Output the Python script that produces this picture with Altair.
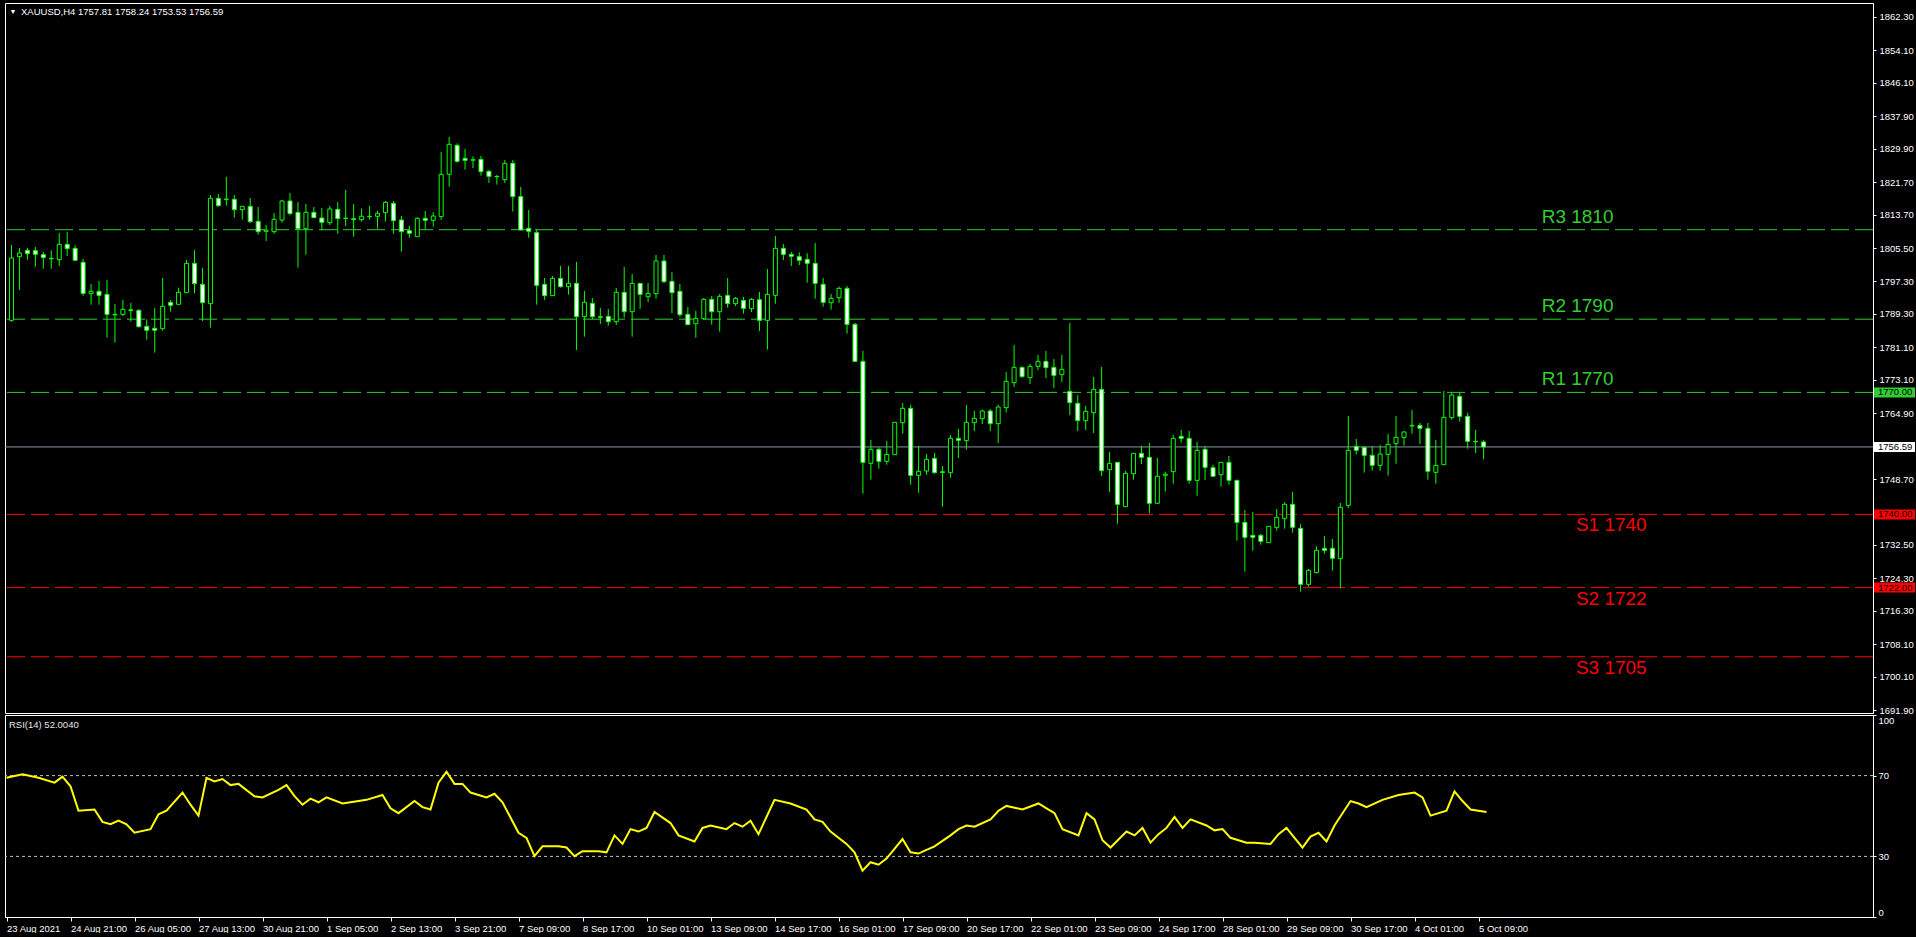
import altair as alt
import pandas as pd

# ---------------- data ----------------
symbol = "XAUUSD,H4"

opens = [1787.72, 1803.37, 1804.93, 1804.85, 1803.87, 1802.95, 1802.63, 1806.40, 1805.42, 1801.98,
         1794.28, 1794.85, 1794.11, 1789.19, 1789.19, 1790.30, 1790.18, 1786.24, 1785.75, 1785.67,
         1792.14, 1791.65, 1794.52, 1801.73, 1796.57, 1791.82, 1817.72, 1817.40, 1817.47, 1814.93,
         1815.75, 1812.06, 1809.60, 1809.52, 1812.39, 1817.06, 1814.27, 1810.26, 1814.27, 1812.88,
         1811.73, 1815.01, 1812.85, 1812.70, 1812.47, 1813.29, 1813.29, 1814.19, 1816.49, 1812.39,
         1809.76, 1808.29, 1812.80, 1812.31, 1813.21, 1823.62, 1830.75, 1827.55, 1827.10, 1827.30,
         1824.35, 1823.10, 1822.31, 1826.32, 1818.13, 1810.34, 1809.27, 1796.57, 1793.78, 1798.04,
         1795.99, 1796.81, 1788.61, 1791.89, 1788.60, 1788.70, 1787.38, 1794.60, 1789.84, 1796.81,
         1793.53, 1794.27, 1802.30, 1797.30, 1794.84, 1789.19, 1786.89, 1788.12, 1792.88, 1789.84,
         1793.86, 1791.81, 1792.63, 1790.58, 1792.79, 1787.71, 1793.86, 1805.42, 1803.94, 1803.37,
         1802.71, 1801.73, 1796.57, 1792.06, 1793.29, 1795.58, 1786.73, 1777.63, 1752.55, 1756.00,
         1753.05, 1754.69, 1762.55, 1766.08, 1749.60, 1750.67, 1753.78, 1750.30, 1750.26, 1758.70,
         1758.13, 1762.55, 1763.54, 1765.42, 1762.31, 1766.24, 1772.39, 1776.16, 1773.62, 1776.40,
         1777.63, 1776.16, 1774.36, 1770.26, 1767.31, 1763.05, 1765.01, 1770.75, 1751.00, 1752.80,
         1741.90, 1750.01, 1755.01, 1754.03, 1742.72, 1749.60, 1750.51, 1759.19, 1758.70, 1748.37,
         1756.00, 1751.49, 1749.77, 1752.80, 1748.38, 1738.05, 1734.85, 1734.85, 1733.05, 1736.82,
         1738.95, 1742.48, 1736.58, 1722.81, 1725.68, 1731.66, 1731.66, 1729.12, 1742.23, 1756.74,
         1756.49, 1754.52, 1752.06, 1754.77, 1757.39, 1758.95, 1761.75, 1761.90, 1761.16, 1750.34,
         1752.23, 1763.79, 1769.03, 1764.11, 1757.95, 1757.81]
highs = [1806.24, 1805.50, 1805.50, 1805.75, 1804.52, 1804.93, 1809.19, 1809.44, 1806.16, 1802.80,
         1796.65, 1797.39, 1797.63, 1791.73, 1792.72, 1791.98, 1790.42, 1787.96, 1790.75, 1798.13,
         1792.72, 1795.75, 1802.55, 1805.01, 1800.59, 1818.54, 1818.78, 1822.96, 1818.54, 1815.75,
         1817.80, 1815.58, 1811.16, 1814.11, 1817.31, 1819.03, 1816.81, 1816.32, 1815.58, 1815.34,
         1815.83, 1816.81, 1819.76, 1816.32, 1815.17, 1815.83, 1814.60, 1817.06, 1817.06, 1813.37,
         1810.91, 1813.04, 1814.60, 1814.35, 1829.11, 1832.80, 1831.24, 1829.85, 1828.04, 1828.12,
         1824.68, 1823.45, 1827.14, 1827.14, 1820.50, 1814.85, 1809.93, 1798.13, 1798.62, 1801.08,
         1801.07, 1802.05, 1794.92, 1793.20, 1790.74, 1790.50, 1795.66, 1800.83, 1799.10, 1796.89,
         1796.89, 1803.78, 1803.78, 1799.60, 1796.65, 1790.99, 1790.01, 1793.20, 1793.69, 1794.19,
         1798.12, 1793.45, 1793.45, 1793.20, 1794.68, 1800.33, 1808.45, 1806.48, 1804.51, 1804.44,
         1804.19, 1806.73, 1798.12, 1794.19, 1795.99, 1796.16, 1787.06, 1780.17, 1758.29, 1756.49,
         1758.05, 1762.64, 1767.39, 1766.90, 1756.82, 1754.85, 1755.10, 1751.90, 1759.52, 1761.00,
         1766.90, 1765.42, 1765.75, 1765.91, 1766.98, 1775.01, 1781.65, 1776.32, 1776.98, 1779.19,
         1780.17, 1778.21, 1779.19, 1787.06, 1769.36, 1766.65, 1773.78, 1776.24, 1755.34, 1752.80,
         1750.67, 1755.01, 1756.82, 1757.55, 1753.87, 1750.51, 1759.52, 1760.75, 1760.50, 1757.80,
         1756.82, 1752.15, 1752.80, 1754.36, 1748.38, 1741.08, 1740.59, 1735.18, 1737.07, 1741.33,
         1742.97, 1745.51, 1737.64, 1726.58, 1732.15, 1734.69, 1733.95, 1742.81, 1764.20, 1758.54,
         1756.74, 1756.82, 1757.06, 1759.77, 1764.20, 1760.51, 1765.67, 1762.47, 1762.47, 1758.29,
         1770.34, 1769.93, 1770.02, 1764.93, 1760.75, 1758.24]
lows = [1787.39, 1795.18, 1802.63, 1800.91, 1800.42, 1800.42, 1801.08, 1803.54, 1802.47, 1793.78,
        1791.57, 1791.57, 1783.46, 1782.23, 1788.78, 1787.39, 1785.91, 1782.96, 1779.77, 1785.18,
        1789.85, 1791.65, 1794.52, 1794.44, 1787.55, 1785.91, 1815.67, 1815.91, 1812.96, 1812.47,
        1811.65, 1808.78, 1807.22, 1809.03, 1811.73, 1813.54, 1800.67, 1803.86, 1812.96, 1809.85,
        1811.16, 1809.03, 1810.91, 1808.29, 1811.98, 1812.47, 1810.26, 1811.98, 1809.03, 1804.60,
        1808.04, 1808.29, 1810.09, 1810.75, 1812.39, 1820.58, 1826.48, 1824.76, 1825.17, 1823.29,
        1821.49, 1821.08, 1821.49, 1814.44, 1809.93, 1808.04, 1791.57, 1792.72, 1793.78, 1795.75,
        1794.02, 1780.42, 1783.70, 1787.96, 1786.81, 1786.40, 1786.56, 1788.37, 1783.70, 1790.58,
        1792.22, 1793.04, 1796.89, 1789.51, 1788.61, 1786.65, 1783.45, 1787.88, 1786.65, 1784.93,
        1790.83, 1791.24, 1789.35, 1789.76, 1785.09, 1780.50, 1791.81, 1802.55, 1801.07, 1801.32,
        1796.98, 1793.04, 1791.08, 1790.34, 1791.98, 1784.44, 1777.63, 1745.10, 1748.54, 1751.24,
        1752.23, 1754.69, 1759.85, 1747.31, 1745.34, 1749.77, 1750.01, 1741.90, 1749.03, 1753.87,
        1755.91, 1760.50, 1762.23, 1760.50, 1757.55, 1765.01, 1771.32, 1773.62, 1772.06, 1775.50,
        1773.54, 1771.08, 1772.55, 1764.44, 1760.50, 1760.75, 1760.01, 1749.44, 1745.51, 1737.72,
        1741.90, 1748.54, 1752.39, 1740.26, 1742.72, 1745.59, 1747.55, 1757.64, 1747.55, 1744.60,
        1748.46, 1749.28, 1746.82, 1747.31, 1733.54, 1725.92, 1731.08, 1732.56, 1733.05, 1736.00,
        1736.49, 1735.51, 1721.00, 1722.23, 1725.51, 1730.35, 1726.17, 1721.82, 1741.57, 1754.77,
        1750.26, 1750.75, 1750.75, 1749.52, 1752.47, 1756.90, 1759.85, 1757.31, 1748.54, 1747.56,
        1752.23, 1763.29, 1762.80, 1756.16, 1755.10, 1753.53]
closes = [1803.04, 1804.27, 1804.11, 1803.95, 1803.13, 1802.85, 1806.40, 1805.34, 1802.47, 1794.36,
          1794.85, 1793.86, 1789.19, 1789.05, 1790.42, 1790.10, 1786.16, 1785.26, 1785.26, 1791.16,
          1791.41, 1794.60, 1801.73, 1796.73, 1792.06, 1817.72, 1815.91, 1817.55, 1814.93, 1815.75,
          1811.98, 1809.52, 1809.90, 1812.55, 1817.06, 1813.95, 1810.26, 1814.27, 1812.96, 1811.81,
          1815.09, 1812.72, 1812.75, 1812.47, 1813.29, 1813.20, 1814.03, 1816.73, 1812.22, 1809.52,
          1809.11, 1812.80, 1812.31, 1813.37, 1823.62, 1830.99, 1826.81, 1827.06, 1827.20, 1824.27,
          1823.12, 1823.00, 1826.32, 1818.13, 1809.93, 1809.60, 1796.32, 1793.78, 1798.04, 1796.00,
          1796.81, 1788.61, 1792.14, 1788.61, 1788.45, 1787.38, 1794.60, 1789.84, 1796.81, 1794.10,
          1794.35, 1802.30, 1797.22, 1794.51, 1789.10, 1786.65, 1788.20, 1792.88, 1789.84, 1793.61,
          1791.81, 1793.12, 1790.66, 1792.88, 1787.71, 1794.10, 1805.42, 1803.94, 1803.45, 1802.47,
          1801.73, 1796.81, 1792.14, 1793.12, 1795.58, 1786.73, 1777.63, 1752.80, 1756.00, 1753.05,
          1754.77, 1762.64, 1766.08, 1749.60, 1750.59, 1753.54, 1750.26, 1750.50, 1758.70, 1758.21,
          1762.64, 1763.62, 1765.42, 1762.31, 1766.41, 1772.72, 1776.16, 1773.86, 1776.40, 1777.63,
          1776.08, 1774.19, 1775.67, 1767.47, 1763.05, 1765.34, 1770.75, 1750.75, 1752.55, 1742.47,
          1750.10, 1755.01, 1754.03, 1742.72, 1749.36, 1749.90, 1758.70, 1758.70, 1748.37, 1755.75,
          1751.57, 1749.36, 1752.80, 1748.38, 1738.05, 1734.36, 1734.36, 1733.38, 1737.07, 1739.28,
          1742.48, 1736.82, 1722.81, 1726.25, 1731.17, 1731.17, 1729.20, 1741.74, 1755.75, 1755.75,
          1754.52, 1752.06, 1754.85, 1757.23, 1758.95, 1760.26, 1761.90, 1761.16, 1750.59, 1752.06,
          1763.87, 1769.36, 1764.11, 1757.97, 1757.85, 1756.59]

time_labels = ["23 Aug 2021", "24 Aug 21:00", "26 Aug 05:00", "27 Aug 13:00", "30 Aug 21:00",
               "1 Sep 05:00", "2 Sep 13:00", "3 Sep 21:00", "7 Sep 09:00", "8 Sep 17:00",
               "10 Sep 01:00", "13 Sep 09:00", "14 Sep 17:00", "16 Sep 01:00", "17 Sep 09:00",
               "20 Sep 17:00", "22 Sep 01:00", "23 Sep 09:00", "24 Sep 17:00", "28 Sep 01:00",
               "29 Sep 09:00", "30 Sep 17:00", "4 Oct 01:00", "5 Oct 09:00"]
bars_per_label = 8

price_ticks = [1862.3, 1854.1, 1846.1, 1837.9, 1829.9, 1821.7, 1813.7, 1805.5, 1797.3, 1789.3,
               1781.1, 1773.1, 1764.9, 1748.7, 1732.5, 1724.3, 1716.3, 1708.1, 1700.1, 1691.9]

level_names = ["R3 1810", "R2 1790", "R1 1770", "S1 1740", "S2 1722", "S3 1705"]
level_values = [1810.0, 1788.0, 1770.0, 1740.0, 1722.0, 1705.0]
level_colors = ["#32cd32", "#32cd32", "#32cd32", "#ff0000", "#ff0000", "#ff0000"]
level_side = ["R", "R", "R", "S", "S", "S"]
level_text_bar = [192.3, 192.3, 192.3, 196.6, 196.6, 196.6]

badge_values = [1770.0, 1756.59, 1740.0, 1722.0]
badge_colors = ["#32cd32", "#ffffff", "#ff0000", "#ff0000"]

rsi_bar = [0, 2, 4, 6, 7, 8, 9, 11, 12, 13, 14, 15, 16, 18, 19, 20, 22, 23, 24, 25, 26, 27, 28, 29,
           31, 32, 34, 35, 36, 37, 38, 39, 40, 42, 43, 45, 47, 48, 49, 51, 52, 53, 54, 55, 56, 57,
           58, 60, 61, 62, 64, 65, 66, 67, 69, 70, 71, 72, 74, 75, 76, 77, 78, 79, 80, 81, 83, 84,
           86, 87, 88, 90, 91, 92, 93, 94, 96, 98, 100, 101, 102, 103, 105, 106, 107, 108, 109,
           110, 112, 113, 114, 115, 116, 118, 119, 120, 121, 123, 124, 125, 127, 129, 130, 131,
           132, 134, 135, 136, 137, 138, 140, 141, 142, 143, 144, 145, 146, 147, 148, 150, 151,
           152, 153, 155, 156, 158, 159, 160, 161, 162, 163, 164, 165, 166, 168, 169, 170, 172,
           174, 176, 177, 178, 180, 181, 182, 183, 185]
rsi_val = [68.9, 70.7, 68.9, 66.5, 69.5, 64.7, 52.6, 53.2, 47.1, 45.9, 47.7, 45.9, 41.7, 43.5, 50.8,
           52.6, 61.6, 55.6, 50.2, 68.9, 67.1, 68.3, 65.3, 65.9, 59.8, 59.2, 62.9, 65.3, 59.8, 55.6,
           58.6, 56.8, 59.2, 56.2, 56.8, 58.0, 60.4, 53.8, 51.4, 57.4, 54.4, 53.2, 66.5, 71.9, 65.9,
           65.9, 61.6, 59.2, 61.0, 56.8, 41.7, 39.2, 30.1, 35.0, 35.0, 34.4, 30.1, 32.6, 32.6, 32.0,
           40.4, 36.2, 43.5, 42.3, 44.1, 52.0, 46.5, 40.4, 37.4, 44.1, 45.3, 43.5, 46.5, 44.7, 47.7,
           41.0, 58.0, 56.2, 53.2, 48.3, 47.1, 42.3, 36.2, 32.0, 22.9, 27.1, 25.9, 28.9, 38.6, 32.0,
           31.4, 33.2, 35.0, 40.4, 43.5, 45.3, 44.7, 48.3, 52.6, 55.0, 53.2, 56.2, 53.8, 51.4, 43.5,
           40.4, 51.4, 48.3, 38.0, 34.4, 42.3, 40.4, 44.1, 36.8, 41.0, 44.1, 49.5, 44.1, 48.3, 45.3,
           42.9, 43.5, 39.2, 36.8, 36.8, 36.2, 41.0, 44.1, 39.2, 34.4, 39.8, 41.7, 37.4, 45.3, 57.4,
           56.2, 54.4, 58.0, 60.4, 61.6, 59.2, 50.2, 52.6, 62.2, 57.4, 53.2, 52.0]
rsi_levels = [70, 30]
rsi_ticks = [0, 30, 70, 100]
rsi_title = "RSI(14) 52.0040"

# ---------------- layout / style ----------------
W, H_MAIN, H_RSI = 1868, 710, 202
GREEN = "#00ff00"
FONT = "Liberation Sans"
FS = 9.5
x_scale = alt.Scale(domain=[-0.1875, 233.31], nice=False, zero=False)
y_scale = alt.Scale(domain=[1691.17, 1865.74], nice=False, zero=False)
rsi_scale = alt.Scale(domain=[0, 100], nice=False, zero=False)

n = len(opens)
candles = pd.DataFrame({"i": list(range(n)), "open": opens, "high": highs,
                        "low": lows, "close": closes})
candles["dir"] = ["up" if c >= o else "down" for o, c in zip(opens, closes)]

y_axis = alt.Axis(orient="right", values=price_ticks, format=".2f", title=None, grid=False,
                  tickSize=3, labelPadding=3, labelColor="#ffffff", tickColor="#ffffff",
                  domainColor="#ffffff", labelFont=FONT, labelFontSize=FS,
                  labelOverlap=False, labelFlush=False)
X0 = alt.X("i:Q", scale=x_scale, axis=None)

wicks = alt.Chart(candles).mark_rule(color=GREEN, strokeWidth=1, clip=True).encode(
    x=X0, y=alt.Y("low:Q", scale=y_scale, axis=y_axis), y2="high:Q")

bodies = alt.Chart(candles).mark_bar(size=4, stroke=GREEN, strokeWidth=1,
                                     orient="vertical", clip=True).encode(
    x=X0,
    y=alt.Y("open:Q", scale=y_scale, axis=y_axis),
    y2="close:Q",
    fill=alt.Fill("dir:N", scale=alt.Scale(domain=["up", "down"],
                                           range=["#000000", "#ffffff"]), legend=None))

levels = pd.DataFrame({"name": level_names, "value": level_values, "color": level_colors,
                       "side": level_side, "tx": level_text_bar})
level_rules = alt.Chart(levels).mark_rule(strokeDash=[18, 6], strokeWidth=1).encode(
    y=alt.Y("value:Q", scale=y_scale, axis=y_axis),
    color=alt.Color("color:N", scale=None))

level_text_r = alt.Chart(levels).transform_filter(alt.datum.side == "R").mark_text(
    align="left", baseline="middle", font=FONT, fontSize=19, dy=-13).encode(
    x=alt.X("tx:Q", scale=x_scale, axis=None),
    y=alt.Y("value:Q", scale=y_scale, axis=y_axis),
    text="name:N", color=alt.Color("color:N", scale=None))
level_text_s = alt.Chart(levels).transform_filter(alt.datum.side == "S").mark_text(
    align="left", baseline="middle", font=FONT, fontSize=19, dy=11).encode(
    x=alt.X("tx:Q", scale=x_scale, axis=None),
    y=alt.Y("value:Q", scale=y_scale, axis=y_axis),
    text="name:N", color=alt.Color("color:N", scale=None))

price_line = alt.Chart(pd.DataFrame({"p": [closes[-1]]})).mark_rule(
    color="#8a94a6", strokeWidth=1).encode(y=alt.Y("p:Q", scale=y_scale, axis=y_axis))

badges = pd.DataFrame({"v": badge_values, "bg": badge_colors,
                       "label": [f"{v:.2f}" for v in badge_values]})
badge_rect = alt.Chart(badges).mark_rect(yOffset=-5, y2Offset=5).encode(
    x=alt.value(W + 1), x2=alt.value(W + 42),
    y=alt.Y("v:Q", scale=y_scale, axis=y_axis), y2="v:Q",
    color=alt.Color("bg:N", scale=None))
badge_text = alt.Chart(badges).mark_text(align="left", baseline="middle", font=FONT,
                                         fontSize=FS, color="#000000").encode(
    x=alt.value(W + 5), y=alt.Y("v:Q", scale=y_scale, axis=y_axis), text="label:N")

header = f"{symbol}  {opens[-1]:.2f} {highs[-1]:.2f} {lows[-1]:.2f} {closes[-1]:.2f}"
head_df = pd.DataFrame({"t": [header], "tri": ["\u25bc"]})
head_tri = alt.Chart(head_df).mark_text(align="center", baseline="middle", fontSize=7,
                                        color="#ffffff").encode(
    x=alt.value(8), y=alt.value(9), text="tri:N")
head_text = alt.Chart(head_df).mark_text(align="left", baseline="middle", font=FONT,
                                         fontSize=FS, color="#ffffff").encode(
    x=alt.value(16), y=alt.value(9), text="t:N")

main = alt.layer(level_rules, price_line, wicks, bodies, level_text_r, level_text_s,
                 badge_rect, badge_text, head_tri, head_text).properties(
    width=W, height=H_MAIN)

# ---------------- RSI panel ----------------
labels_js = "[" + ",".join("'" + s + "'" for s in time_labels) + "]"
x_axis = alt.Axis(values=[k * bars_per_label for k in range(len(time_labels))],
                  labelExpr=labels_js + f"[round(datum.value / {bars_per_label})]",
                  title=None, grid=False, tickSize=4, labelAlign="left", labelFlush=False,
                  labelOverlap=False, labelBound=False, labelPadding=2,
                  labelColor="#ffffff", tickColor="#ffffff", domainColor="#ffffff",
                  labelFont=FONT, labelFontSize=FS)
rsi_axis = alt.Axis(orient="right", values=rsi_ticks, title=None, grid=False, tickSize=3,
                    labelPadding=2, labelFlush=True, labelOverlap=False,
                    labelColor="#ffffff", tickColor="#ffffff", domainColor="#ffffff",
                    labelFont=FONT, labelFontSize=FS)

rsi_df = pd.DataFrame({"i": rsi_bar, "rsi": rsi_val})
rsi_line = alt.Chart(rsi_df).mark_line(color="#ffff00", strokeWidth=2).encode(
    x=alt.X("i:Q", scale=x_scale, axis=x_axis),
    y=alt.Y("rsi:Q", scale=rsi_scale, axis=rsi_axis))
rsi_lv = alt.Chart(pd.DataFrame({"v": rsi_levels})).mark_rule(
    color="#c0c0c0", strokeDash=[3, 3], strokeWidth=1).encode(
    y=alt.Y("v:Q", scale=rsi_scale, axis=rsi_axis))
rsi_txt = alt.Chart(pd.DataFrame({"t": [rsi_title]})).mark_text(
    align="left", baseline="middle", font=FONT, fontSize=FS, color="#e6e6e6").encode(
    x=alt.value(4), y=alt.value(10), text="t:N")

rsi = alt.layer(rsi_lv, rsi_line, rsi_txt).properties(width=W, height=H_RSI)

chart = alt.vconcat(main, rsi, spacing=2, bounds="flush").configure(
    background="#000000",
    padding={"left": 2, "top": 2, "right": 0, "bottom": 0},
).configure_view(stroke="#ffffff", strokeWidth=1)


class _BlackPage:
    def render(self, **kw):
        from altair.utils.html import TEMPLATES
        html = TEMPLATES["standard"].render(**kw)
        css = "<style>html,body{margin:0;padding:0;background:#000;overflow:hidden}</style>"
        if "<head>" in html:
            return html.replace("<head>", "<head>" + css, 1)
        return css + html


try:
    chart.save("out.html", embed_options={"renderer": "svg", "actions": False},
               template=_BlackPage())
except Exception:
    chart.save("out.html", embed_options={"renderer": "svg", "actions": False})
